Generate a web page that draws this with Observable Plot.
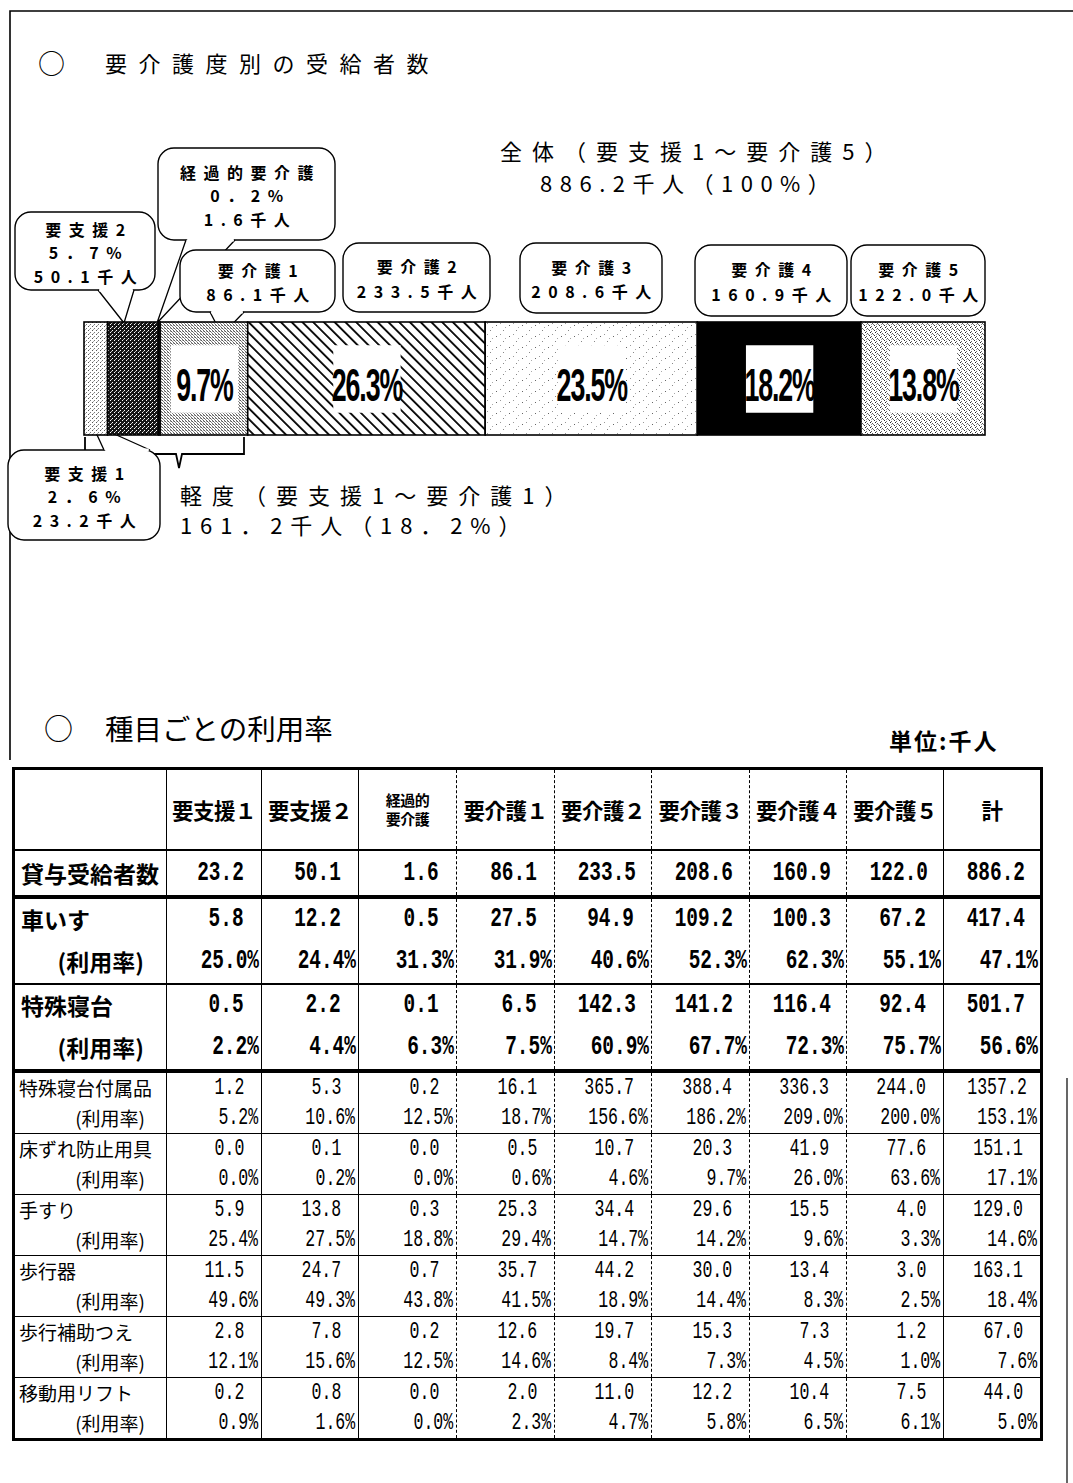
<!DOCTYPE html>
<html lang="ja"><head><meta charset="utf-8">
<script src="https://cdn.jsdelivr.net/npm/d3@7"></script>
<script src="https://cdn.jsdelivr.net/npm/@observablehq/plot@0.6"></script>
<style>
html,body{margin:0;padding:0;background:#fff;}
#page{position:relative;width:1073px;height:1483px;overflow:hidden;font-family:"Noto Sans CJK JP",sans-serif;color:#000;}
#bar{position:absolute;left:0;top:322px;}
#overlay{position:absolute;left:0;top:0;}
#tbl{position:absolute;left:12px;top:767px;border-collapse:collapse;table-layout:fixed;width:1028px;border:3px solid #000;}
#tbl td{padding:0;border:none;overflow:hidden;white-space:nowrap;}
.hd{font-weight:700;font-size:21.5px;text-align:center;vertical-align:middle;letter-spacing:-0.5px;}
.hd.small{font-size:15px;line-height:19px;}
.lab{font-weight:700;font-size:23px;}
.lab.sm{font-weight:400;font-size:19px;}
.num{font-family:"Liberation Mono",monospace;text-align:right;}
.num span{display:inline-block;transform-origin:right center;}
.big .num{font-size:27px;font-weight:700;}
.big .num span{transform:scaleX(.72);}
.sml .num{font-size:23px;}
.sml .num span{transform:scaleX(.72);}
</style></head><body>
<div id="page">
  <svg id="overlay" width="1073" height="1483"></svg>
  <div id="bar"></div>
  <table id="tbl"></table>
</div>
<script>
// ---------- data ----------
const levels = ["要支援1","要支援2","経過的要介護","要介護1","要介護2","要介護3","要介護4","要介護5"];
const recipients = [23.2, 50.1, 1.6, 86.1, 233.5, 208.6, 160.9, 122.0];
const shares = [2.6, 5.7, 0.2, 9.7, 26.3, 23.5, 18.2, 13.8];
const totalRecipients = 886.2;   // 全体 (as printed)
const lightRecipients = 161.2;   // 軽度 (as printed)
const lightShare = 18.2;

const columnLabels = ["要支援１","要支援２","経過的\n要介護","要介護１","要介護２","要介護３","要介護４","要介護５","計"];
const recipientsRow = [23.2, 50.1, 1.6, 86.1, 233.5, 208.6, 160.9, 122.0, 886.2];
const items = ["車いす","特殊寝台","特殊寝台付属品","床ずれ防止用具","手すり","歩行器","歩行補助つえ","移動用リフト"];
const wheelchair      = [5.8, 12.2, 0.5, 27.5, 94.9, 109.2, 100.3, 67.2, 417.4];
const wheelchairRate  = [25.0, 24.4, 31.3, 31.9, 40.6, 52.3, 62.3, 55.1, 47.1];
const bed             = [0.5, 2.2, 0.1, 6.5, 142.3, 141.2, 116.4, 92.4, 501.7];
const bedRate         = [2.2, 4.4, 6.3, 7.5, 60.9, 67.7, 72.3, 75.7, 56.6];
const bedAccessory    = [1.2, 5.3, 0.2, 16.1, 365.7, 388.4, 336.3, 244.0, 1357.2];
const bedAccessoryRate= [5.2, 10.6, 12.5, 18.7, 156.6, 186.2, 209.0, 200.0, 153.1];
const antiBedsore     = [0.0, 0.1, 0.0, 0.5, 10.7, 20.3, 41.9, 77.6, 151.1];
const antiBedsoreRate = [0.0, 0.2, 0.0, 0.6, 4.6, 9.7, 26.0, 63.6, 17.1];
const handrail        = [5.9, 13.8, 0.3, 25.3, 34.4, 29.6, 15.5, 4.0, 129.0];
const handrailRate    = [25.4, 27.5, 18.8, 29.4, 14.7, 14.2, 9.6, 3.3, 14.6];
const walker          = [11.5, 24.7, 0.7, 35.7, 44.2, 30.0, 13.4, 3.0, 163.1];
const walkerRate      = [49.6, 49.3, 43.8, 41.5, 18.9, 14.4, 8.3, 2.5, 18.4];
const cane            = [2.8, 7.8, 0.2, 12.6, 19.7, 15.3, 7.3, 1.2, 67.0];
const caneRate        = [12.1, 15.6, 12.5, 14.6, 8.4, 7.3, 4.5, 1.0, 7.6];
const lift            = [0.2, 0.8, 0.0, 2.0, 11.0, 12.2, 10.4, 7.5, 44.0];
const liftRate        = [0.9, 1.6, 0.0, 2.3, 4.7, 5.8, 6.5, 6.1, 5.0];

// ---------- stacked 100% bar ----------
const segs = levels.map((level, i) => ({i, level, value: recipients[i], share: shares[i]}));
const barSvg = Plot.plot({
  width: 1073, height: 113,
  marginLeft: 84, marginRight: 88, marginTop: 0, marginBottom: 0,
  x: {domain: [0, d3.sum(recipients)], axis: null},
  color: {type: "identity"},
  style: {background: "transparent", overflow: "visible"},
  marks: [
    Plot.barX(segs, Plot.stackX({x: "value", fill: d => `url(#pat${d.i})`, stroke: "black", strokeWidth: 1.6})),
    Plot.dot(segs, Plot.stackX({x: "value", symbol: "square", r: 38, fill: d => d.share > 9 ? "white" : "none"})),
    Plot.text(segs, Plot.stackX({x: "value", text: d => d.share > 9 ? d.share.toFixed(1) + "%" : null,
      fontSize: 47, fontWeight: "bold", fontFamily: "Liberation Sans, Arial, sans-serif", fill: "black", dy: 7}))
  ]
});
document.getElementById("bar").appendChild(barSvg);
{
  const s = d3.select(barSvg);
  s.selectAll('g[aria-label="text"] text').each(function() {
    const t = this.getAttribute("transform") || "";
    this.setAttribute("transform", t + " scale(0.57,1)");
    this.setAttribute("letter-spacing", "-2");
  });
  const defs = s.insert("defs", ":first-child");
  const pat = (id, w, h, bg, dots) => {
    const p = defs.append("pattern").attr("id", id).attr("width", w).attr("height", h).attr("patternUnits", "userSpaceOnUse");
    p.append("rect").attr("width", w).attr("height", h).attr("fill", bg);
    dots.forEach(([x, y, c]) => p.append("rect").attr("x", x).attr("y", y).attr("width", 1).attr("height", 1).attr("fill", c));
    return p;
  };
  pat("pat0", 4, 4, "#fff", [[0,0,"#555"],[2,2,"#777"],[1,3,"#aaa"]]);
  pat("pat1", 4, 4, "#151515", [[0,0,"#fff"],[2,2,"#fff"],[3,1,"#bbb"]]);
  pat("pat2", 2, 2, "#444", []);
  pat("pat3", 3, 3, "#fff", [[0,0,"#555"],[1,1,"#888"],[2,2,"#666"],[2,0,"#aaa"]]);
  const p4 = defs.append("pattern").attr("id", "pat4").attr("width", 7.6).attr("height", 7.6)
    .attr("patternUnits", "userSpaceOnUse").attr("patternTransform", "rotate(-45)");
  p4.append("rect").attr("width", 7.6).attr("height", 7.6).attr("fill", "#fff");
  p4.append("rect").attr("x", 0).attr("width", 1.8).attr("height", 7.6).attr("fill", "#000");
  pat("pat5", 13, 11, "#fff", [[2,3,"#666"],[9,8,"#888"],[6,1,"#999"],[11,5,"#aaa"]]);
  pat("pat6", 2, 2, "#000", []);
  pat("pat7", 5, 5, "#fff", [[0,0,"#222"],[2,1,"#555"],[4,3,"#333"],[1,4,"#666"],[3,2,"#777"],[1,2,"#999"]]);
}

// ---------- annotations ----------
const ov = d3.select("#overlay");
const FONT = "Noto Sans CJK JP, sans-serif";
function txt(x, y, s, size, opts = {}) {
  return ov.append("text").attr("x", x).attr("y", y).attr("dominant-baseline", "central")
    .attr("font-family", FONT).attr("font-size", size)
    .attr("font-weight", opts.weight || 400)
    .attr("letter-spacing", opts.ls || 0)
    .attr("text-anchor", opts.anchor || "start").text(s);
}
// frame lines
ov.append("path").attr("d", "M10,760V11H1073").attr("fill", "none").attr("stroke", "#000").attr("stroke-width", 1.6);
ov.append("path").attr("d", "M1067,1078V1483").attr("fill", "none").attr("stroke", "#000").attr("stroke-width", 1.2);

txt(38, 62, "○", 27);
txt(105, 62, "要介護度別の受給者数", 22, {ls: 11.5});
txt(500, 150, "全体（要支援1～要介護5）", 22, {ls: 10});
txt(540, 182, `${totalRecipients.toFixed(1)}千人（100%）`, 22, {ls: 7.5});

const pctStr = v => v.toFixed(1).replace(".", "．") + "%";
txt(180, 494, "軽度（要支援1～要介護1）", 22, {ls: 10});
txt(180, 524, `${lightRecipients.toFixed(1).replace(".", "．")}千人（${pctStr(lightShare)}）`, 22, {ls: 7.9});

function callout(box, lines, tail) {
  const [x0, y0, x1, y1] = box;
  const g = ov.append("g");
  g.append("rect").attr("x", x0).attr("y", y0).attr("width", x1 - x0).attr("height", y1 - y0)
    .attr("rx", 16).attr("fill", "#fff").attr("stroke", "#000").attr("stroke-width", 1.4);
  if (tail) {
    const [a, b, tip] = tail;
    g.append("path").attr("d", `M${a[0]},${a[1]}L${tip[0]},${tip[1]}L${b[0]},${b[1]}`)
      .attr("fill", "#fff").attr("stroke", "#000").attr("stroke-width", 1.3);
    g.append("path").attr("d", `M${a[0] + 1.2},${a[1]}L${b[0] - 1.2},${b[1]}`)
      .attr("stroke", "#fff").attr("stroke-width", 3);
  }
  const cx = (x0 + x1) / 2, n = lines.length;
  const step = n === 3 ? 23.5 : 24.5;
  const cy = (y0 + y1) / 2;
  lines.forEach((s, k) => {
    g.append("text").attr("x", cx + 4).attr("y", cy + (k - (n - 1) / 2) * step + 1)
      .attr("dominant-baseline", "central").attr("text-anchor", "middle")
      .attr("font-family", FONT).attr("font-size", 16).attr("font-weight", 700)
      .attr("letter-spacing", 7.5).text(s);
  });
}
const thou = v => v.toFixed(1) + "千人";
callout([15, 212, 155, 290], [levels[1], pctStr(shares[1]), thou(recipients[1])], [[98, 290], [134, 290], [124, 323]]);
callout([158, 148, 335, 240], [levels[2], pctStr(shares[2]), thou(recipients[2])], [[186, 240], [235, 240], [157, 323]]);
callout([180, 250, 335, 312], [levels[3], thou(recipients[3])], [[210, 312], [244, 312], [222, 335]]);
callout([343, 243, 490, 312], [levels[4], thou(recipients[4])]);
callout([520, 243, 662, 313], [levels[5], thou(recipients[5])]);
callout([695, 245, 847, 316], [levels[6], thou(recipients[6])]);
callout([851, 245, 985, 316], [levels[7], thou(recipients[7])]);
// bracket under the light-care segments
ov.append("path").attr("d", "M85,437V454H176L179,468L182,454H244V437")
  .attr("fill", "none").attr("stroke", "#000").attr("stroke-width", 1.8);
callout([8, 450, 160, 540], [levels[0], pctStr(shares[0]), thou(recipients[0])], [[104, 450], [150, 450], [92, 424]]);

txt(44, 727, "○", 29);
txt(105, 727, "種目ごとの利用率", 28.5);
txt(889, 740, "単位:千人", 23, {weight: 700, ls: 2});

// ---------- table ----------
const colW = [153, 95, 97, 98, 98, 97, 98, 97, 97, 98];
const leftStyle = ["solid", "solid", "solid", "dashed", "dashed", "dashed", "dashed", "dashed", "solid"];
const f1 = v => v.toFixed(1);
const fp = v => v.toFixed(1) + "%";
const rowsSpec = [
  {name: items[0], v: wheelchair, r: wheelchairRate, big: true, bottom: "2px solid #000"},
  {name: items[1], v: bed, r: bedRate, big: true, bottom: "4px solid #000"},
  {name: items[2], v: bedAccessory, r: bedAccessoryRate},
  {name: items[3], v: antiBedsore, r: antiBedsoreRate},
  {name: items[4], v: handrail, r: handrailRate},
  {name: items[5], v: walker, r: walkerRate},
  {name: items[6], v: cane, r: caneRate},
  {name: items[7], v: lift, r: liftRate}
];
const cellBorder = (j, bottom) => `border-left:${leftStyle[j] === "solid" ? "1.6px solid #000" : "1.3px dashed #000"};border-bottom:${bottom};`;
let html = "<colgroup>" + colW.map(w => `<col style="width:${w}px">`).join("") + "</colgroup>";
html += `<tr style="height:81px"><td style="border-bottom:2px solid #000"></td>` +
  columnLabels.map((c, j) => `<td class="hd${c.includes("\n") ? " small" : ""}" style="${cellBorder(j, "2px solid #000")}">${c.replace("\n", "<br>")}</td>`).join("") + "</tr>";
html += `<tr class="big" style="height:47px"><td class="lab" style="border-bottom:4px solid #000;padding-left:6px;vertical-align:middle">貸与受給者数</td>` +
  recipientsRow.map((v, j) => `<td class="num" style="${cellBorder(j, "4px solid #000")}vertical-align:middle;padding-right:17px"><span>${f1(v)}</span></td>`).join("") + "</tr>";
rowsSpec.forEach((row, k) => {
  const big = !!row.big;
  const bottom = row.bottom || (k === rowsSpec.length - 1 ? "3px solid #000" : "1.5px solid #000");
  const h1 = big ? 40 : 30, h2 = big ? 44 : 30;
  html += `<tr class="${big ? "big" : "sml"}" style="height:${h1 + h2}px">` +
    `<td class="lab${big ? "" : " sm"}" style="border-bottom:${bottom};vertical-align:top">` +
    `<div style="height:${h1}px;line-height:${h1}px;padding-left:${big ? 6 : 4}px">${row.name}</div>` +
    `<div style="height:${h2}px;line-height:${h2}px;text-align:right;padding-right:${big ? 22 : 21}px">(利用率)</div></td>` +
    row.v.map((v, j) => `<td class="num" style="${cellBorder(j, bottom)}vertical-align:top">` +
      `<div style="height:${h1}px;line-height:${h1}px;padding-right:17px"><span>${f1(v)}</span></div>` +
      `<div style="height:${h2}px;line-height:${h2}px;padding-right:${big ? 2 : 3}px"><span>${fp(row.r[j])}</span></div></td>`).join("") +
    "</tr>";
});
document.getElementById("tbl").innerHTML = html;
</script>
</body></html>
